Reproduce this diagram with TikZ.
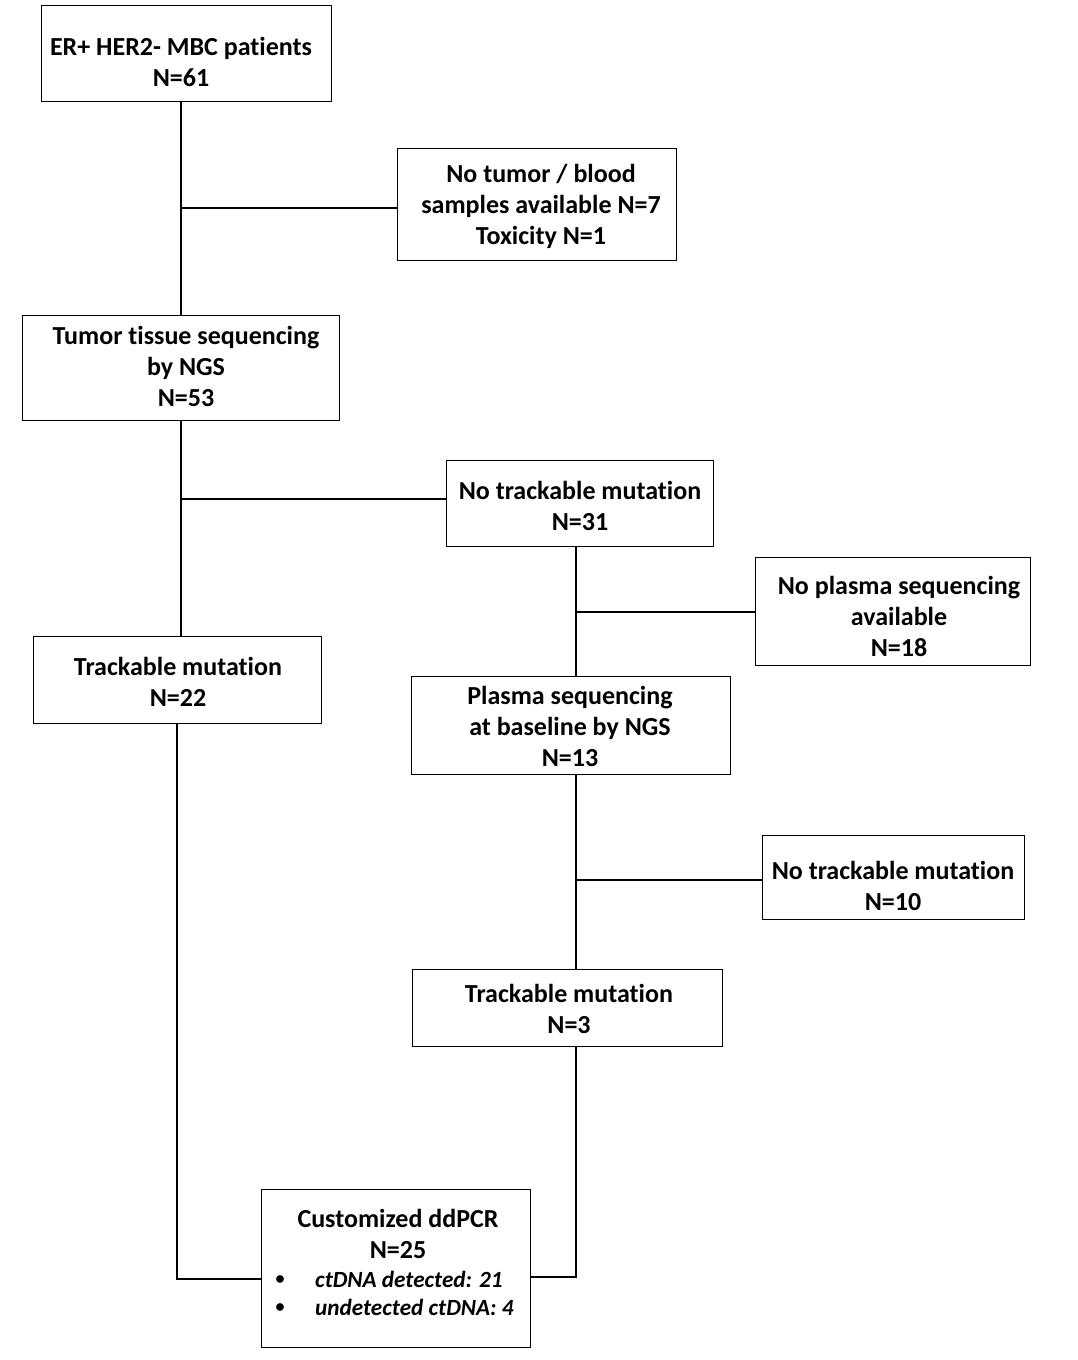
\documentclass[tikz,border=0pt]{standalone}
\usepackage{fontspec}
\setmainfont{Carlito}[Ligatures=NoCommon]
\begin{document}
\begin{tikzpicture}[x=1pt,y=-1pt,
  box/.style={draw=black,line width=1.1pt,minimum width=#1,inner sep=0pt,anchor=north west},
  txt/.style={font=\fontsize{26}{31}\selectfont\bfseries,align=center,inner sep=0pt,anchor=center},
  bul/.style={font=\fontsize{18}{31}\selectfont\bfseries,inner sep=0pt,anchor=center},
  itx/.style={font=\fontsize{23.2}{28}\selectfont\bfseries\itshape,inner sep=0pt,anchor=west},
  conn/.style={line width=1.1pt,black}]
\useasboundingbox (0,0) rectangle (1078,1360);
% boxes (corners in px)
\node[box=290pt,minimum height=96pt]  (b1)  at (41,5)    {};
\node[box=279pt,minimum height=112pt] (b2)  at (397,148) {};
\node[box=317pt,minimum height=105pt] (b3)  at (22,315)  {};
\node[box=267pt,minimum height=86pt]  (b4)  at (446,460) {};
\node[box=275pt,minimum height=108pt] (b5)  at (755,557) {};
\node[box=288pt,minimum height=87pt]  (b6)  at (33,636)  {};
\node[box=319pt,minimum height=98pt]  (b7)  at (411,676) {};
\node[box=262pt,minimum height=84pt]  (b8)  at (762,835) {};
\node[box=310pt,minimum height=77pt]  (b9)  at (412,969) {};
\node[box=269pt,minimum height=158pt] (b10) at (261,1189) {};
% texts
\node[txt] (t1) at (181,61.5) {ER+ HER2- MBC patients\\N=61};
\node[txt] (t2) at (541,206) {No tumor / blood\\samples available N=7\\Toxicity N=1};
\node[txt] (t3) at (186,366) {Tumor tissue sequencing\\by NGS\\N=53};
\node[txt] (t4) at (580,505.5) {No trackable mutation\\N=31};
\node[txt] (t5) at (899,616) {No plasma sequencing\\available\\N=18};
\node[txt] (t6) at (178,681.5) {Trackable mutation\\N=22};
\node[txt] (t7) at (570,726) {Plasma sequencing\\at baseline by NGS\\N=13};
\node[txt] (t8) at (893,885.5) {No trackable mutation\\N=10};
\node[txt] (t9) at (569,1008.5) {Trackable mutation\\N=3};
\node[txt] (t10) at (398,1233.5) {Customized ddPCR\\N=25};
\node[bul] (bu1) at (280,1280) {\textbullet};
\node[bul] (bu2) at (280,1308) {\textbullet};
\node[itx] (i1) at (315,1279) {ctDNA detected: 21};
\node[itx] (i2) at (315,1307) {undetected ctDNA: 4};
% connectors
\coordinate (j1) at (181,208);
\coordinate (j2) at (181,499);
\coordinate (j3) at (576,612);
\coordinate (j4) at (576,880);
\coordinate (k1) at (177,1279);
\coordinate (k2) at (576,1277);
\draw[conn] (b1.south -| j1) -- (b3.north -| j1);
\draw[conn] (j1) -- (j1 -| b2.west);
\draw[conn] (b3.south -| j2) -- (b6.north -| j2);
\draw[conn] (j2) -- (j2 -| b4.west);
\draw[conn] (b4.south -| j3) -- (b7.north -| j3);
\draw[conn] (j3) -- (j3 -| b5.west);
\draw[conn] (b7.south -| j4) -- (b9.north -| j4);
\draw[conn] (j4) -- (j4 -| b8.west);
\draw[conn] (b6.south -| k1) -- (k1) -- (k1 -| b10.west);
\draw[conn] (b9.south -| k2) -- (k2) -- (k2 -| b10.east);
\end{tikzpicture}
\end{document}
